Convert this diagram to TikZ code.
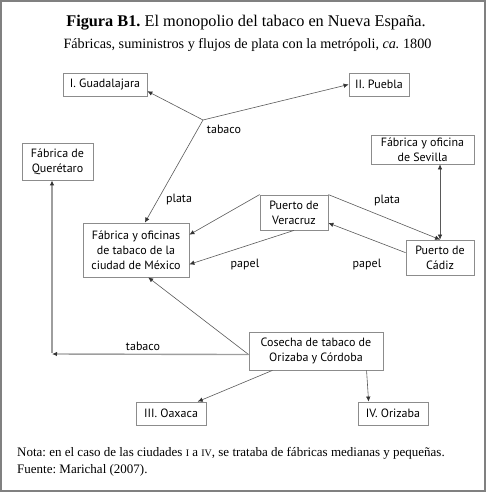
\documentclass[tikz,border=0pt]{standalone}
\usepackage{fontspec}
\setmainfont{Liberation Serif}
\newfontfamily\boxfont{PT Sans}
\usetikzlibrary{arrows.meta,calc}
\frenchspacing
\definecolor{framegray}{gray}{0.5}
\definecolor{boxgray}{gray}{0.55}
\definecolor{linegray}{gray}{0.35}
\definecolor{thickgray}{gray}{0.62}
\tikzset{
  bx/.style={draw=boxgray, line width=0.8pt, inner sep=0pt, align=center, font=\boxfont\fontsize{12}{15}\selectfont},
  lbl/.style={inner sep=0pt, font=\boxfont\fontsize{12}{13}\selectfont},
  tip/.style={-{Latex[length=5pt,width=4.5pt,color=black!80]}},
  conn/.style={draw=linegray, line width=0.6pt, tip},
  heavy/.style={draw=thickgray, line width=1.4pt, tip},
}
\begin{document}
\begin{tikzpicture}[x=1pt,y=-1pt]
\useasboundingbox (0,0) rectangle (486,492);
\draw[framegray, line width=1.6pt] (1,1) rectangle (485,491);

\node[font=\fontsize{16.3}{19}\selectfont] (title) at (246,23) {\textbf{Figura B1.} El monopolio del tabaco en Nueva España.};
\node[font=\fontsize{14.2}{16}\selectfont] (subtitle) at (247.5,45) {Fábricas, suministros y flujos de plata con la metrópoli, \textit{ca.} 1800};

\node[bx, minimum width=84pt, minimum height=23pt] (guad) at (105,84.5) {I. Guadalajara};
\node[bx, minimum width=60pt, minimum height=23pt] (puebla) at (379,84.5) {II. Puebla};
\node[bx, minimum width=71pt, minimum height=37pt] (quer) at (57.5,161.5) {Fábrica de\\Querétaro};
\node[bx, minimum width=103pt, minimum height=29pt] (sevilla) at (422.5,149.5) {Fábrica y oficina\\de Sevilla};
\node[bx, minimum width=68pt, minimum height=35pt] (veracruz) at (294,212.5) {Puerto de\\Veracruz};
\node[bx, minimum width=106pt, minimum height=54pt] (mexico) at (136,250) {Fábrica y oficinas\\de tabaco de la\\ciudad de México};
\node[bx, minimum width=68pt, minimum height=35pt] (cadiz) at (440,257.5) {Puerto de\\Cádiz};
\node[bx, minimum width=134pt, minimum height=38pt] (cosecha) at (316,351) {Cosecha de tabaco de\\Orizaba y Córdoba};
\node[bx, minimum width=70pt, minimum height=23pt] (oaxaca) at (171,413.5) {III. Oaxaca};
\node[bx, minimum width=70pt, minimum height=23pt] (orizaba) at (393,413.5) {IV. Orizaba};

\coordinate (J) at (203,120);
\coordinate (corner) at (52,354);

\draw[conn] (J) -- (guad.-9);
\draw[conn] (J) -- (puebla.west);
\draw[conn] (J) -- (mexico.72);
\draw[conn] (veracruz.north west) -- (mexico.16);
\draw[conn] (veracruz.south) -- (mexico.-15);
\draw[conn] (veracruz.north east) -- (cadiz.north);
\draw[draw=linegray, line width=0.6pt, {Latex[length=5pt,width=4.5pt,color=black!80]}-{Latex[length=5pt,width=4.5pt,color=black!80]}] (cadiz.north) -- (cadiz.north |- sevilla.south);
\draw[conn] (cadiz.172) -- (veracruz.-17);
\draw[conn] (cosecha.183) -- (mexico.-66);
\draw[conn] (cosecha.-156) -- (oaxaca.24);
\draw[conn] (cosecha.-21.6) -- (orizaba.154);
\draw[heavy] ([yshift=0.7pt]corner) -- (quer.south -| corner);
\draw[heavy] (cosecha.183) -- (corner);

\node[lbl] (l1) at (224,129) {tabaco};
\node[lbl] (l2) at (179,199) {plata};
\node[lbl] (l3) at (387,200) {plata};
\node[lbl] (l4) at (245,264) {papel};
\node[lbl] (l5) at (367,264) {papel};
\node[lbl] (l6) at (143,346) {tabaco};

\node[anchor=west, inner sep=0pt, font=\fontsize{13}{15}\selectfont] (nota) at (17,453) {Nota: en el caso de las ciudades {\fontsize{10}{10}\selectfont I} a {\fontsize{10}{10}\selectfont IV}, se trataba de fábricas medianas y pequeñas.};
\node[anchor=west, inner sep=0pt, font=\fontsize{13}{15}\selectfont] (fuente) at (17,470) {Fuente: Marichal (2007).};
\end{tikzpicture}
\end{document}
